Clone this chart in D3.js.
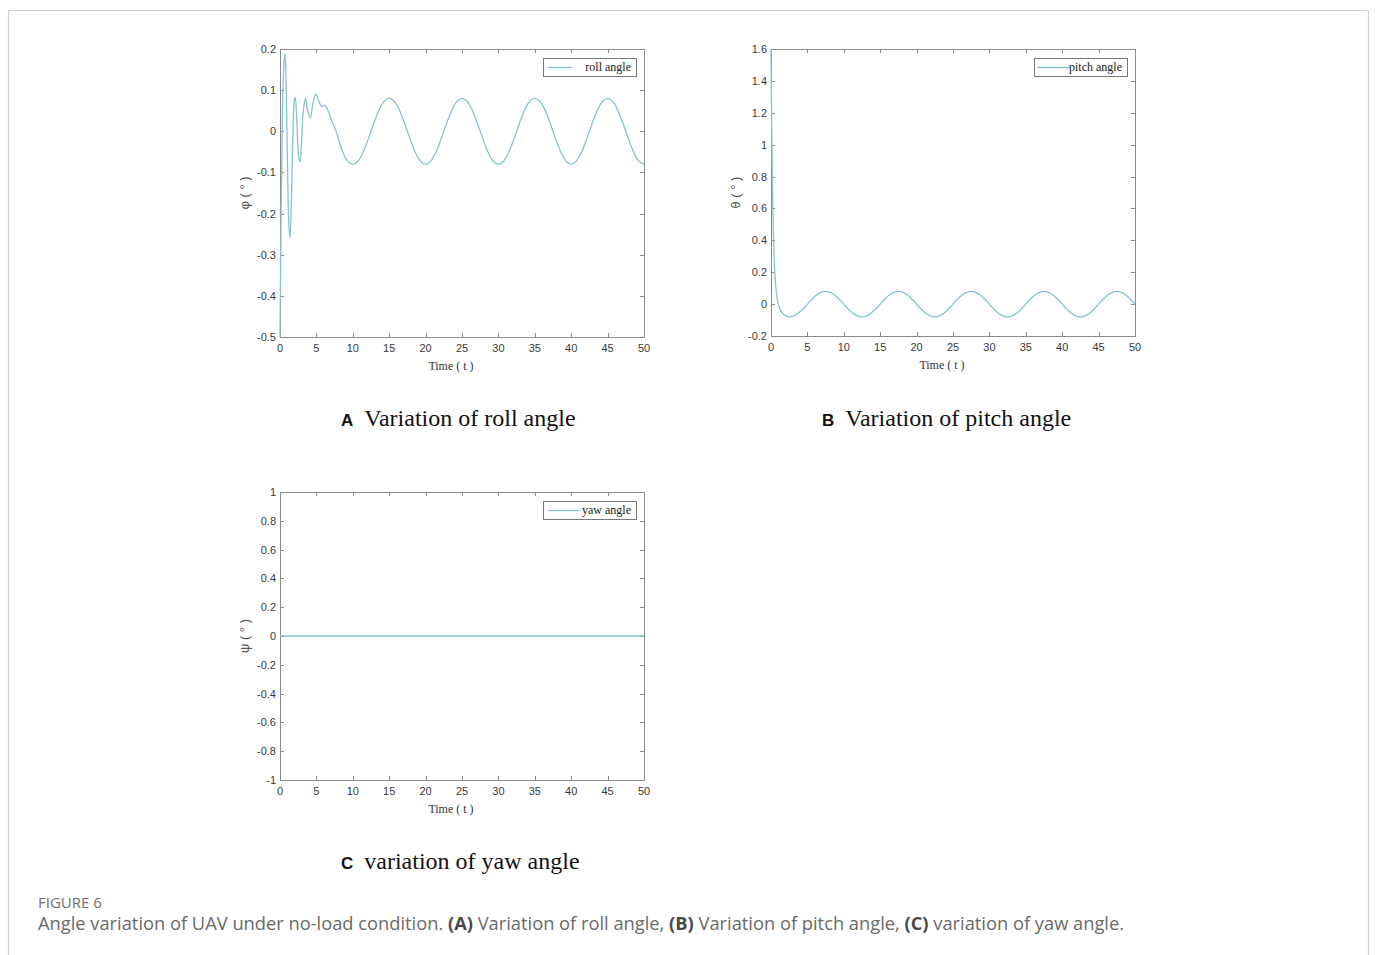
<!DOCTYPE html>
<html>
<head>
<meta charset="utf-8">
<script src="https://cdn.jsdelivr.net/npm/d3@7"></script>
<style>
  html, body { margin: 0; padding: 0; background: #fff; }
  svg { display: block; }
</style>
</head>
<body>
<svg id="fig" width="1375" height="955"></svg>
<script>
// Time axis ticks shared by all three panels
const timeTicks = [0, 5, 10, 15, 20, 25, 30, 35, 40, 45, 50];

// Roll angle φ (°) over time t: transient up to t = 10, then steady oscillation
const rollT = [0, 0.15, 0.3, 0.5, 0.69, 0.85, 1.05, 1.2, 1.37, 1.55, 1.75, 1.95, 2.1, 2.3, 2.55, 2.75, 2.95, 3.2, 3.5, 3.8, 4.17, 4.5, 4.9, 5.3, 5.7, 6.2, 6.6, 7.0, 7.7, 8.5, 9.2,
  10, 10.625, 11.25, 11.875, 12.5, 13.125, 13.75, 14.375, 15, 15.625, 16.25, 16.875, 17.5, 18.125, 18.75, 19.375,
  20, 20.625, 21.25, 21.875, 22.5, 23.125, 23.75, 24.375, 25, 25.625, 26.25, 26.875, 27.5, 28.125, 28.75, 29.375,
  30, 30.625, 31.25, 31.875, 32.5, 33.125, 33.75, 34.375, 35, 35.625, 36.25, 36.875, 37.5, 38.125, 38.75, 39.375,
  40, 40.625, 41.25, 41.875, 42.5, 43.125, 43.75, 44.375, 45, 45.625, 46.25, 46.875, 47.5, 48.125, 48.75, 49.375, 50];
const rollV = [-0.5, -0.2, 0.0, 0.15, 0.19, 0.1, -0.1, -0.22, -0.26, -0.18, -0.02, 0.07, 0.083, 0.03, -0.06, -0.075, -0.03, 0.05, 0.08, 0.05, 0.033, 0.065, 0.09, 0.075, 0.06, 0.063, 0.05, 0.03, 0.0, -0.045, -0.07,
  -0.08, -0.074, -0.057, -0.031, 0, 0.031, 0.057, 0.074, 0.08, 0.074, 0.057, 0.031, 0, -0.031, -0.057, -0.074,
  -0.08, -0.074, -0.057, -0.031, 0, 0.031, 0.057, 0.074, 0.08, 0.074, 0.057, 0.031, 0, -0.031, -0.057, -0.074,
  -0.08, -0.074, -0.057, -0.031, 0, 0.031, 0.057, 0.074, 0.08, 0.074, 0.057, 0.031, 0, -0.031, -0.057, -0.074,
  -0.08, -0.074, -0.057, -0.031, 0, 0.031, 0.057, 0.074, 0.08, 0.074, 0.057, 0.031, 0, -0.031, -0.057, -0.074, -0.079];
const rollTicks = [0.2, 0.1, 0, -0.1, -0.2, -0.3, -0.4, -0.5];

// Pitch angle θ (°) over time t: fast decay from 1.6, then steady oscillation
const pitchT = [0, 0.1, 0.2, 0.3, 0.45, 0.6, 0.8, 1.0, 1.4, 1.9,
  2.5, 3.125, 3.75, 4.375, 5, 5.625, 6.25, 6.875, 7.5, 8.125, 8.75, 9.375, 10, 10.625, 11.25, 11.875,
  12.5, 13.125, 13.75, 14.375, 15, 15.625, 16.25, 16.875, 17.5, 18.125, 18.75, 19.375, 20, 20.625, 21.25, 21.875,
  22.5, 23.125, 23.75, 24.375, 25, 25.625, 26.25, 26.875, 27.5, 28.125, 28.75, 29.375, 30, 30.625, 31.25, 31.875,
  32.5, 33.125, 33.75, 34.375, 35, 35.625, 36.25, 36.875, 37.5, 38.125, 38.75, 39.375, 40, 40.625, 41.25, 41.875,
  42.5, 43.125, 43.75, 44.375, 45, 45.625, 46.25, 46.875, 47.5, 48.125, 48.75, 49.375, 50];
const pitchV = [1.6, 1.1, 0.75, 0.5, 0.28, 0.14, 0.05, 0.0, -0.045, -0.07,
  -0.08, -0.074, -0.057, -0.031, 0, 0.031, 0.057, 0.074, 0.08, 0.074, 0.057, 0.031, 0, -0.031, -0.057, -0.074,
  -0.08, -0.074, -0.057, -0.031, 0, 0.031, 0.057, 0.074, 0.08, 0.074, 0.057, 0.031, 0, -0.031, -0.057, -0.074,
  -0.08, -0.074, -0.057, -0.031, 0, 0.031, 0.057, 0.074, 0.08, 0.074, 0.057, 0.031, 0, -0.031, -0.057, -0.074,
  -0.08, -0.074, -0.057, -0.031, 0, 0.031, 0.057, 0.074, 0.08, 0.074, 0.057, 0.031, 0, -0.031, -0.057, -0.074,
  -0.08, -0.074, -0.057, -0.031, 0, 0.031, 0.057, 0.074, 0.08, 0.074, 0.057, 0.031, 0.0];
const pitchTicks = [1.6, 1.4, 1.2, 1, 0.8, 0.6, 0.4, 0.2, 0, -0.2];

// Yaw angle ψ (°) over time t
const yawT = [0, 50];
const yawV = [0, 0];
const yawTicks = [1, 0.8, 0.6, 0.4, 0.2, 0, -0.2, -0.4, -0.6, -0.8, -1];

const svg = d3.select("#fig");
const lineColor = "#85c3cf";
const axisColor = "#8a8a8a";

// Outer frame of the figure
svg.append("path")
  .attr("d", "M8.5,955 L8.5,10.5 L1368.5,10.5 L1368.5,955")
  .attr("fill", "none").attr("stroke", "#cfcfcf").attr("stroke-width", 1.2);

function panel(opt) {
  const g = svg.append("g");
  const x = d3.scaleLinear().domain([0, 50]).range([opt.x0, opt.x1]);
  const y = d3.scaleLinear().domain(opt.yDomain).range([opt.y1, opt.y0]);
  const tl = 4;

  // plot box
  g.append("rect")
    .attr("x", opt.x0 + 0.5).attr("y", opt.y0 + 0.5)
    .attr("width", opt.x1 - opt.x0).attr("height", opt.y1 - opt.y0)
    .attr("fill", "#fff").attr("stroke", axisColor).attr("stroke-width", 1);

  // inward ticks on all four sides
  const tk = g.append("g").attr("stroke", axisColor).attr("stroke-width", 1);
  timeTicks.forEach(t => {
    const px = Math.round(x(t)) + 0.5;
    tk.append("line").attr("x1", px).attr("x2", px).attr("y1", opt.y1).attr("y2", opt.y1 - tl);
    tk.append("line").attr("x1", px).attr("x2", px).attr("y1", opt.y0).attr("y2", opt.y0 + tl);
  });
  opt.yTicks.forEach(v => {
    const py = Math.round(y(v)) + 0.5;
    tk.append("line").attr("x1", opt.x0).attr("x2", opt.x0 + tl).attr("y1", py).attr("y2", py);
    tk.append("line").attr("x1", opt.x1).attr("x2", opt.x1 - tl).attr("y1", py).attr("y2", py);
  });

  // tick labels
  const lab = g.append("g").attr("font-family", "Liberation Sans, Arial, sans-serif")
    .attr("font-size", 11).attr("fill", "#3a3a3a");
  timeTicks.forEach(t => {
    lab.append("text").attr("x", x(t)).attr("y", opt.y1 + 15)
      .attr("text-anchor", "middle").text(t);
  });
  opt.yTicks.forEach(v => {
    lab.append("text").attr("x", opt.x0 - 4).attr("y", y(v) + 4)
      .attr("text-anchor", "end").text(v);
  });

  // axis titles
  g.append("text")
    .attr("transform", `translate(${opt.x0 - 31},${(opt.y0 + opt.y1) / 2}) rotate(-90)`)
    .attr("text-anchor", "middle").attr("font-family", "Liberation Sans, Arial, sans-serif")
    .attr("font-size", 13).attr("fill", "#555").text(opt.yLabel);
  g.append("text")
    .attr("x", (opt.x0 + opt.x1) / 2 - 11).attr("y", opt.y1 + 33)
    .attr("text-anchor", "middle").attr("font-family", "Liberation Serif, Times New Roman, serif")
    .attr("font-size", 12).attr("fill", "#333").text("Time ( t )");

  // data curve
  const pts = opt.t.map((t, i) => [t, opt.v[i]]);
  g.append("path").datum(pts)
    .attr("fill", "none").attr("stroke", lineColor).attr("stroke-width", 1.3)
    .attr("d", d3.line().x(d => x(d[0])).y(d => y(d[1])).curve(d3.curveCatmullRom.alpha(0.5)));

  // legend
  const lw = 93, lh = 18;
  const lx = opt.x1 - 8 - lw, ly = opt.y0 + 9;
  g.append("rect").attr("x", lx + 0.5).attr("y", ly + 0.5).attr("width", lw).attr("height", lh)
    .attr("fill", "#fff").attr("stroke", "#777").attr("stroke-width", 1);
  g.append("line").attr("x1", lx + opt.legLine[0]).attr("x2", lx + opt.legLine[1])
    .attr("y1", ly + lh / 2 + 0.5).attr("y2", ly + lh / 2 + 0.5)
    .attr("stroke", lineColor).attr("stroke-width", 1.3);
  g.append("text").attr("x", lx + lw - 5).attr("y", ly + 13)
    .attr("text-anchor", "end").attr("font-family", "Liberation Serif, Times New Roman, serif")
    .attr("font-size", 12).attr("fill", "#222").text(opt.legend);

  // sub caption
  const cap = g.append("text").attr("x", opt.capX).attr("y", opt.capY);
  cap.append("tspan").attr("font-family", "Liberation Sans, Arial, sans-serif").attr("font-weight", "bold")
    .attr("font-size", 17).attr("fill", "#111").text(opt.letter);
  cap.append("tspan").attr("dx", 11).attr("font-family", "Liberation Serif, Times New Roman, serif")
    .attr("font-size", 24).attr("fill", "#111").text(opt.caption);
}

panel({ x0: 280, x1: 644, y0: 49, y1: 337, yDomain: [-0.5, 0.2], yTicks: rollTicks,
  t: rollT, v: rollV, yLabel: "φ ( ° )", legend: "roll angle", legLine: [5, 29],
  letter: "A", caption: "Variation of roll angle", capX: 341, capY: 426 });

panel({ x0: 771, x1: 1135, y0: 49, y1: 336, yDomain: [-0.2, 1.6], yTicks: pitchTicks,
  t: pitchT, v: pitchV, yLabel: "θ ( ° )", legend: "pitch angle", legLine: [3, 36],
  letter: "B", caption: "Variation of pitch angle", capX: 822, capY: 426 });

panel({ x0: 280, x1: 644, y0: 492, y1: 780, yDomain: [-1, 1], yTicks: yawTicks,
  t: yawT, v: yawV, yLabel: "ψ ( ° )", legend: "yaw angle", legLine: [5, 36],
  letter: "C", caption: "variation of yaw angle", capX: 341, capY: 869 });

// Figure caption
svg.append("text").attr("x", 38).attr("y", 908)
  .attr("font-family", "Open Sans, Noto Sans, sans-serif").attr("font-size", 15)
  .attr("fill", "#707070").text("FIGURE 6");
const fc = svg.append("text").attr("x", 38).attr("y", 930)
  .attr("font-family", "Open Sans, Noto Sans, sans-serif").attr("font-size", 18.3)
  .attr("fill", "#6a6a6a");
[["Angle variation of UAV under no-load condition. ", false], ["(A)", true], [" Variation of roll angle, ", false],
 ["(B)", true], [" Variation of pitch angle, ", false], ["(C)", true], [" variation of yaw angle.", false]]
  .forEach(([s, b]) => {
    fc.append("tspan").attr("font-weight", b ? "bold" : "normal").attr("fill", b ? "#4a4a4a" : "#6a6a6a").text(s);
  });
</script>
</body>
</html>
